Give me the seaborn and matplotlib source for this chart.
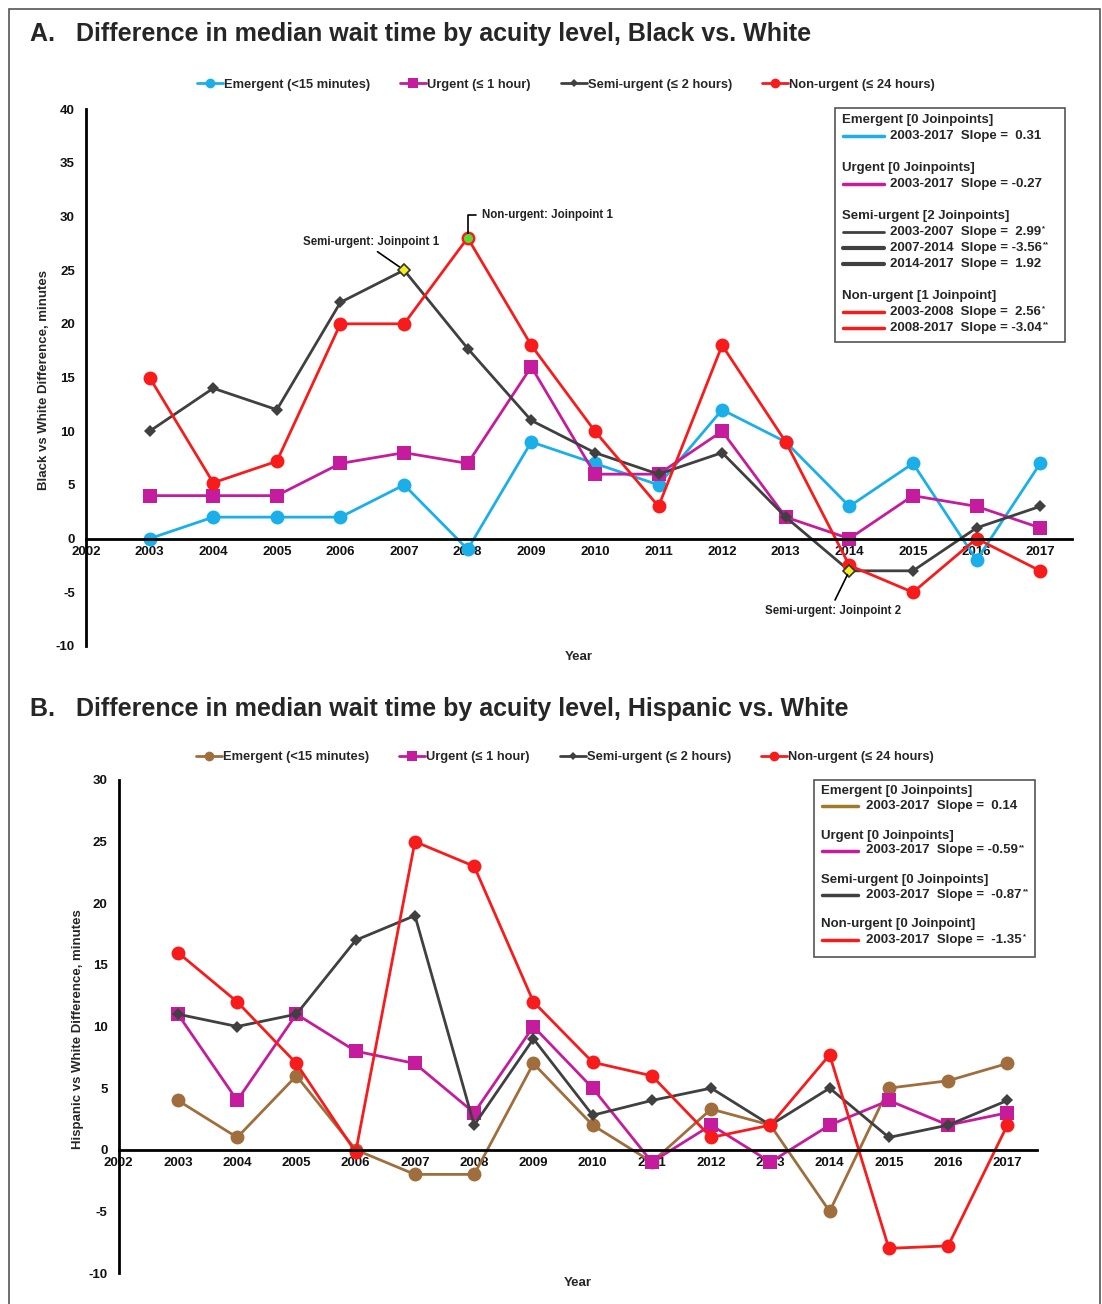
import numpy as np
import pandas as pd
import matplotlib.pyplot as plt
from matplotlib.lines import Line2D
from matplotlib.patches import Rectangle
import seaborn as sns

sns.set_theme(style='white')
plt.rcParams['font.family'] = ['Liberation Sans', 'DejaVu Sans']
plt.rcParams['font.weight'] = 'bold'
plt.rcParams['axes.unicode_minus'] = False

# ── Data ──────────────────────────────────────────────────────────────────────
years = list(range(2003, 2018))
levels = ['Emergent (<15 minutes)', 'Urgent (≤ 1 hour)',
          'Semi-urgent (≤ 2 hours)', 'Non-urgent (≤ 24 hours)']

# A: Black vs White
black_emergent = [0, 2, 2, 2, 5, -1, 9, 7, 5, 12, 9, 3, 7, -2, 7]
black_urgent   = [4, 4, 4, 7, 8, 7, 16, 6, 6, 10, 2, 0, 4, 3, 1]
black_semi     = [10, 14, 12, 22, 25, 17.7, 11, 8, 6, 8, 2, -3, -3, 1, 3]
black_non      = [15, 5.2, 7.2, 20, 20, 28, 18, 10, 3, 18, 9, -2.5, -5, 0, -3]

# B: Hispanic vs White
hisp_emergent = [4, 1, 6, 0, -2, -2, 7, 2, -1, 3.3, 2, -5, 5, 5.6, 7]
hisp_urgent   = [11, 4, 11, 8, 7, 3, 10, 5, -1, 2, -1, 2, 4, 2, 3]
hisp_semi     = [11, 10, 11, 17, 19, 2, 9, 2.8, 4, 5, 2, 5, 1, 2, 4]
hisp_non      = [16, 12, 7, -0.2, 25, 23, 12, 7.1, 6, 1, 2, 7.7, -8, -7.8, 2]

# joinpoint summaries: (header, [(years, slope, stars)])
jp_black = [
    ('Emergent [0 Joinpoints]', [('2003-2017', ' 0.31', '')]),
    ('Urgent [0 Joinpoints]', [('2003-2017', '-0.27', '')]),
    ('Semi-urgent [2 Joinpoints]', [('2003-2007', ' 2.99', '*'),
                                    ('2007-2014', '-3.56', '**'),
                                    ('2014-2017', ' 1.92', '')]),
    ('Non-urgent [1 Joinpoint]', [('2003-2008', ' 2.56', '*'),
                                  ('2008-2017', '-3.04', '**')]),
]
jp_hisp = [
    ('Emergent [0 Joinpoints]', [('2003-2017', ' 0.14', '')]),
    ('Urgent [0 Joinpoints]', [('2003-2017', '-0.59', '**')]),
    ('Semi-urgent [0 Joinpoints]', [('2003-2017', ' -0.87', '**')]),
    ('Non-urgent [0 Joinpoint]', [('2003-2017', ' -1.35', '*')]),
]

colors_a = ['#1AAFE8', '#C41C9C', '#404040', '#F81B1B']
colors_b = ['#A06E3C', '#C41C9C', '#404040', '#F81B1B']
box_colors_b = ['#A07A28', '#C41C9C', '#404040', '#F81B1B']
markers = ['o', 's', 'D', 'o']
msizes = [10, 9.5, 6.3, 10]

W, H = 1102, 1304
FS = 9.5


def fx(x):
    return x / W


def fy(y):
    return 1 - y / H


def draw_panel(ax, series, colors, ylim, ylabel):
    df = pd.DataFrame({
        'Year': years * 4,
        'Diff': sum(series, []),
        'Acuity': np.repeat(levels, len(years)),
    })
    sns.lineplot(data=df, x='Year', y='Diff', hue='Acuity', style='Acuity',
                 hue_order=levels, style_order=levels,
                 palette=dict(zip(levels, colors)),
                 markers=dict(zip(levels, markers)), dashes=False,
                 linewidth=2, markeredgewidth=0, legend=False, ax=ax)
    for line, ms in zip(ax.lines[:4], msizes):
        line.set_markersize(ms)
    ax.set_xlim(2002, 2017.5)
    ax.set_ylim(*ylim)
    ax.set_xticks(range(2002, 2018))
    ax.set_yticks(range(ylim[0], ylim[1] + 1, 5))
    ax.set_xlabel('')
    ax.set_ylabel('')
    ax.spines['bottom'].set_position(('data', 0))
    for s in ['top', 'right']:
        ax.spines[s].set_visible(False)
    for s in ['left', 'bottom']:
        ax.spines[s].set_color('black')
        ax.spines[s].set_linewidth(2)
    ax.tick_params(length=0, labelsize=FS, colors='#111111')
    ax.tick_params(axis='x', pad=5)
    ax.tick_params(axis='y', pad=8)
    for lab in ax.get_xticklabels() + ax.get_yticklabels():
        lab.set_fontweight('bold')
    ax.text(0.5, -0.02, 'Year', transform=ax.transAxes, ha='center',
            va='center', fontsize=FS, fontweight='bold')
    ax.text(ylabel[1], 0.495, ylabel[0], transform=ax.transAxes, rotation=90,
            ha='center', va='center', fontsize=FS, fontweight='bold')


def top_legend(colors, xc, yc):
    handles = [Line2D([], [], color=c, marker=m, ms=ms * 0.7, lw=2, mew=0)
               for c, m, ms in zip(colors, markers, msizes)]
    fig.legend(handles, levels, loc='center', bbox_to_anchor=(fx(xc), fy(yc)),
               ncol=4, frameon=False, handlelength=2,
               handletextpad=0.1, columnspacing=2.3,
               prop={'weight': 'bold', 'size': FS - 0.2})


def joinpoint_box(box, hx, lx, tx, y0, step, gap, data, colors, widths):
    x0, y0b, x1, y1b = box
    fig.add_artist(Rectangle((fx(x0), fy(y1b)), fx(x1) - fx(x0),
                             fy(y0b) - fy(y1b), transform=fig.transFigure,
                             fill=False, edgecolor='#555555', lw=1.2))
    renderer = fig.canvas.get_renderer()
    inv = fig.transFigure.inverted()
    y = y0
    for (head, rows), c in zip(data, colors):
        fig.text(fx(hx), fy(y), head, ha='left', va='center',
                 fontsize=FS, fontweight='bold')
        for (rng, slope, stars), w in zip(rows, widths.get(head, [2.5] * 3)):
            y += step
            fig.add_artist(Line2D([fx(lx[0]), fx(lx[1])], [fy(y), fy(y)],
                                  transform=fig.transFigure, color=c, lw=w))
            t = fig.text(fx(tx), fy(y), f'{rng}  Slope = {slope}',
                         ha='left', va='center', fontsize=FS,
                         fontweight='bold')
            if stars:
                bb = t.get_window_extent(renderer=renderer)
                xe = inv.transform((bb.x1, bb.y1))[0]
                fig.text(xe + 0.001, fy(y - 3), stars, ha='left',
                         va='center', fontsize=5.5, fontweight='bold')
        y += gap


fig = plt.figure(figsize=(W / 100, H / 100), dpi=100)

# ══════════════════════════════════════════════════════════════════════════════
# Panel A
# ══════════════════════════════════════════════════════════════════════════════
ax_a = fig.add_axes([fx(86), fy(646), fx(1072) - fx(86), fy(109) - fy(646)])
draw_panel(ax_a, [black_emergent, black_urgent, black_semi, black_non],
           colors_a, (-10, 40), ('Black vs White Difference, minutes', -0.043))

# joinpoint markers
i07, i08, i14 = years.index(2007), years.index(2008), years.index(2014)
ax_a.plot(years[i07], black_semi[i07], marker='D', ms=6.5, mfc='#F5EE1E',
          mec='#333333', mew=1.2, zorder=5)
ax_a.plot(years[i14], black_semi[i14], marker='D', ms=6.5, mfc='#F5EE1E',
          mec='#333333', mew=1.2, zorder=3)
ax_a.plot(years[i08], black_non[i08], marker='o', ms=5.5, mfc='#55DD33',
          mec='#55DD33', zorder=5)

ann = dict(fontsize=FS - 1.2, fontweight='bold', color='#222222')
ax_a.annotate('Semi-urgent: Joinpoint 1', xy=(years[i07], black_semi[i07]),
              xytext=(2006.49, 27.65), ha='center', va='center',
              arrowprops=dict(arrowstyle='-', color='black', lw=1.2,
                              relpos=(0.5, 0), shrinkA=1, shrinkB=4), **ann)
ax_a.annotate('Non-urgent: Joinpoint 1', xy=(years[i08], black_non[i08]),
              xytext=(2008.22, 30.1), ha='left', va='center',
              arrowprops=dict(arrowstyle='-', color='black', lw=1.2,
                              relpos=(0, 0.5), shrinkA=2, shrinkB=3,
                              connectionstyle='angle,angleA=0,angleB=90,rad=0'),
              **ann)
ax_a.annotate('Semi-urgent: Joinpoint 2', xy=(years[i14], black_semi[i14]),
              xytext=(2013.74, -6.7), ha='center', va='center',
              arrowprops=dict(arrowstyle='-', color='black', lw=1.2,
                              relpos=(0.5, 1), shrinkA=1, shrinkB=3), **ann)

fig.text(fx(30), fy(34), 'A.   Difference in median wait time by acuity level, Black vs. White',
         ha='left', va='center', fontsize=18, fontweight='bold')
top_legend(colors_a, 566, 85)
joinpoint_box((835, 108, 1065, 342), 842, (843, 884), 890, 120, 16, 32,
              jp_black, colors_a,
              {'Semi-urgent [2 Joinpoints]': [2, 3, 3]})

# ══════════════════════════════════════════════════════════════════════════════
# Panel B
# ══════════════════════════════════════════════════════════════════════════════
ax_b = fig.add_axes([fx(118.7), fy(1273), fx(1037) - fx(118.7), fy(780) - fy(1273)])
draw_panel(ax_b, [hisp_emergent, hisp_urgent, hisp_semi, hisp_non],
           colors_b, (-10, 30), ('Hispanic vs White Difference, minutes', -0.044))

fig.text(fx(30), fy(709), 'B.   Difference in median wait time by acuity level, Hispanic vs. White',
         ha='left', va='center', fontsize=18, fontweight='bold')
top_legend(colors_b, 565, 757)
joinpoint_box((814, 780, 1035, 957), 821, (822, 858), 866, 791, 15, 29.5,
              jp_hisp, box_colors_b, {})

# outer frame
fig.add_artist(Rectangle((fx(9), -0.01), fx(1100) - fx(9), fy(9) + 0.01,
                         transform=fig.transFigure, fill=False,
                         edgecolor='#555555', lw=1.2))

fig.savefig('out.png', dpi=100)
